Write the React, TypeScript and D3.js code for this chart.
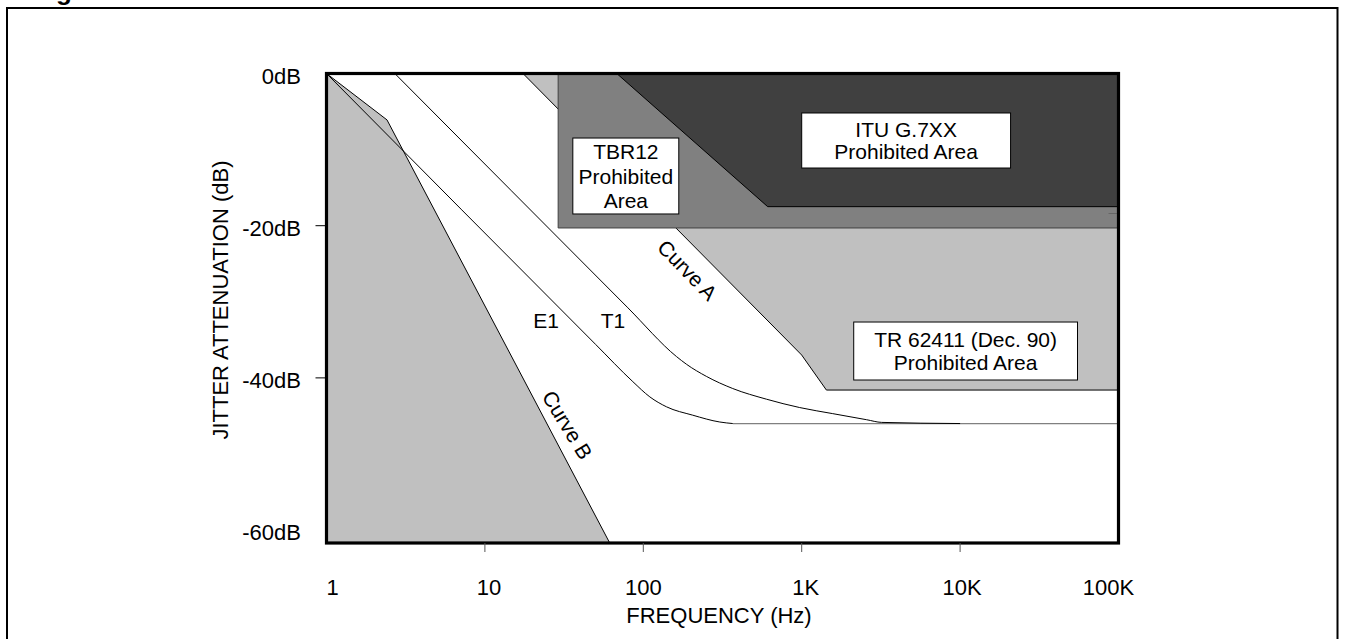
import React from "react";
import * as d3 from "d3";

// ---------- data ----------
const freqTicks = [1, 10, 100, 1000, 10000, 100000];
const freqTickLabels = ["1", "10", "100", "1K", "10K", "100K"];
const dbTicks = [0, -20, -40, -60];
const dbTickLabels = ["0dB", "-20dB", "-40dB", "-60dB"];
const innerDbTicks = [-20, -40];
const rightMarkDb = [-18.4];

// [frequency Hz, attenuation dB]
const curveB: [number, number][] = [[1, 0], [2.41, -6.1], [61.4, -61.7]];
const curveBArea: [number, number][] = [[1, 0], [2.41, -6.1], [61.4, -61.7], [1, -61.7]];
const curveE1: [number, number][] = [
  [1, 0], [50, -35.6], [85.9, -40.5], [110, -42.5], [140, -43.8], [205, -44.9], [304, -45.8], [367, -46],
];
const curveT1: [number, number][] = [
  [2.7, 0], [80, -30.8], [162, -37.2], [187, -38.2], [250, -39.8], [367, -41.4], [599, -42.8],
  [971, -43.9], [1570, -44.7], [2570, -45.5], [3200, -45.85], [10000, -46],
];
const floorLine: [number, number][] = [[367, -46], [100000, -46]];
const curveA: [number, number][] = [[17.4, 0], [1000, -37], [1432, -41.6], [100000, -41.6]];
const tr62411Area: [number, number][] = [[17.4, 0], [1000, -37], [1432, -41.6], [100000, -41.6], [100000, 0]];
const tbr12Area: [number, number][] = [[29, 0], [29, -20.3], [100000, -20.3], [100000, 0]];
const ituArea: [number, number][] = [[68, 0], [610, -17.5], [100000, -17.5], [100000, 0]];

const boxLabels = [
  { f0: 35.9, f1: 167.5, d0: -8.48, d1: -18.46, lines: ["TBR12", "Prohibited", "Area"], gap: 24.5 },
  { f0: 1000, f1: 20830, d0: -5.19, d1: -12.42, lines: ["ITU G.7XX", "Prohibited Area"], gap: 22 },
  { f0: 2130, f1: 55100, d0: -32.66, d1: -40.28, lines: ["TR 62411 (Dec. 90)", "Prohibited Area"], gap: 23.4 },
];

// ---------- layout ----------
const W = 1348;
const H = 639;
const plot = { left: 326.5, right: 1118.5, top: 73.5, bottom: 543 };
const FONT = "'Liberation Sans', Arial, Helvetica, sans-serif";
const AXIS_FS = 22;
const BOX_FS = 21;

const x = d3.scaleLog().domain([1, 100000]).range([plot.left, plot.right]);
const y = d3.scaleLinear().domain([0, -61.7]).range([plot.top, plot.bottom]);

const lineLin = d3.line<[number, number]>().x((d) => x(d[0])).y((d) => y(d[1]));
const lineSmooth = d3
  .line<[number, number]>()
  .x((d) => x(d[0]))
  .y((d) => y(d[1]))
  .curve(d3.curveMonotoneX);
const areaPath = (pts: [number, number][]) => lineLin(pts) + "Z";

const xLabelDx = [6, 4, 0, 4, 2, -10];

export default function App() {
  return (
    <svg
      width={W}
      height={H}
      viewBox={`0 0 ${W} ${H}`}
      style={{ position: "absolute", left: 0, top: 0, display: "block", background: "#fff" }}
      fontFamily={FONT}
    >
      <rect x={0} y={0} width={W} height={H} fill="#fff" />
      {/* cut-off figure title */}
      <text x={33} y={0} fontSize={26} fontWeight="bold" fill="#000">Figure</text>
      {/* outer frame */}
      <rect x={7} y={8} width={1330.5} height={H + 20} fill="none" stroke="#000" strokeWidth={2} />

      {/* regions */}
      <path d={areaPath(tr62411Area)} fill="#c0c0c0" stroke="none" />
      <path d={lineLin(curveA) || ""} fill="none" stroke="#000" strokeWidth={1} />
      <path d={areaPath(tbr12Area)} fill="#808080" stroke="#404040" strokeWidth={1} />
      <path d={areaPath(ituArea)} fill="#404040" stroke="#000" strokeWidth={1} />
      <path d={areaPath(curveBArea)} fill="#c0c0c0" stroke="none" />
      <path d={lineLin(curveB) || ""} fill="none" stroke="#000" strokeWidth={1} />

      {/* curves */}
      <path d={lineLin(floorLine) || ""} fill="none" stroke="#808080" strokeWidth={1.2} />
      <path d={lineSmooth(curveE1) || ""} fill="none" stroke="#000" strokeWidth={1} />
      <path d={lineSmooth(curveT1) || ""} fill="none" stroke="#000" strokeWidth={1} />

      {/* right-edge mark */}
      {rightMarkDb.map((d, i) => (
        <line key={i} x1={plot.right - 10} x2={plot.right} y1={y(d)} y2={y(d)} stroke="#666" strokeWidth={1} />
      ))}

      {/* labelled boxes */}
      {boxLabels.map((b, i) => {
        const x0 = x(b.f0), x1 = x(b.f1), y0 = y(b.d0), y1 = y(b.d1);
        const cx = (x0 + x1) / 2, cy = (y0 + y1) / 2;
        const n = b.lines.length;
        return (
          <g key={i}>
            <rect x={x0} y={y0} width={x1 - x0} height={y1 - y0} fill="#fff" stroke="#000" strokeWidth={1} />
            {b.lines.map((t, j) => (
              <text
                key={j}
                x={cx}
                y={cy + (j - (n - 1) / 2) * b.gap + 0.36 * BOX_FS}
                textAnchor="middle"
                fontSize={BOX_FS}
                fill="#000"
              >
                {t}
              </text>
            ))}
          </g>
        );
      })}

      {/* curve labels */}
      <text x={546} y={320 + 0.36 * BOX_FS} textAnchor="middle" fontSize={BOX_FS}>E1</text>
      <text x={613} y={320 + 0.36 * BOX_FS} textAnchor="middle" fontSize={BOX_FS}>T1</text>
      <g transform="translate(687.5,270) rotate(46)">
        <text x={0} y={0.36 * BOX_FS} textAnchor="middle" fontSize={BOX_FS}>Curve A</text>
      </g>
      <g transform="translate(567.5,425) rotate(58.5)">
        <text x={0} y={0.36 * BOX_FS} textAnchor="middle" fontSize={BOX_FS}>Curve B</text>
      </g>

      {/* plot frame */}
      <rect
        x={plot.left}
        y={plot.top}
        width={plot.right - plot.left}
        height={plot.bottom - plot.top}
        fill="none"
        stroke="#000"
        strokeWidth={3.2}
      />

      {/* y axis */}
      {innerDbTicks.map((d) => (
        <line key={d} x1={plot.left - 11} x2={plot.left} y1={y(d)} y2={y(d)} stroke="#000" strokeWidth={1} />
      ))}
      {dbTicks.map((d, i) => (
        <text key={d} x={301} y={y(d) + 2.5 + 0.36 * AXIS_FS} textAnchor="end" fontSize={AXIS_FS}>
          {dbTickLabels[i]}
        </text>
      ))}
      <text
        transform={`translate(${220 + 0.36 * AXIS_FS},300) rotate(-90)`}
        textAnchor="middle"
        fontSize={AXIS_FS}
      >
        JITTER ATTENUATION (dB)
      </text>

      {/* x axis */}
      {freqTicks.slice(1, -1).map((f) => (
        <line key={f} x1={x(f)} x2={x(f)} y1={plot.bottom} y2={plot.bottom + 9} stroke="#555" strokeWidth={1} />
      ))}
      {freqTicks.map((f, i) => (
        <text key={f} x={x(f) + xLabelDx[i]} y={586.7 + 0.36 * AXIS_FS} textAnchor="middle" fontSize={AXIS_FS}>
          {freqTickLabels[i]}
        </text>
      ))}
      <text x={719} y={615 + 0.36 * AXIS_FS} textAnchor="middle" fontSize={AXIS_FS}>
        FREQUENCY (Hz)
      </text>
    </svg>
  );
}
